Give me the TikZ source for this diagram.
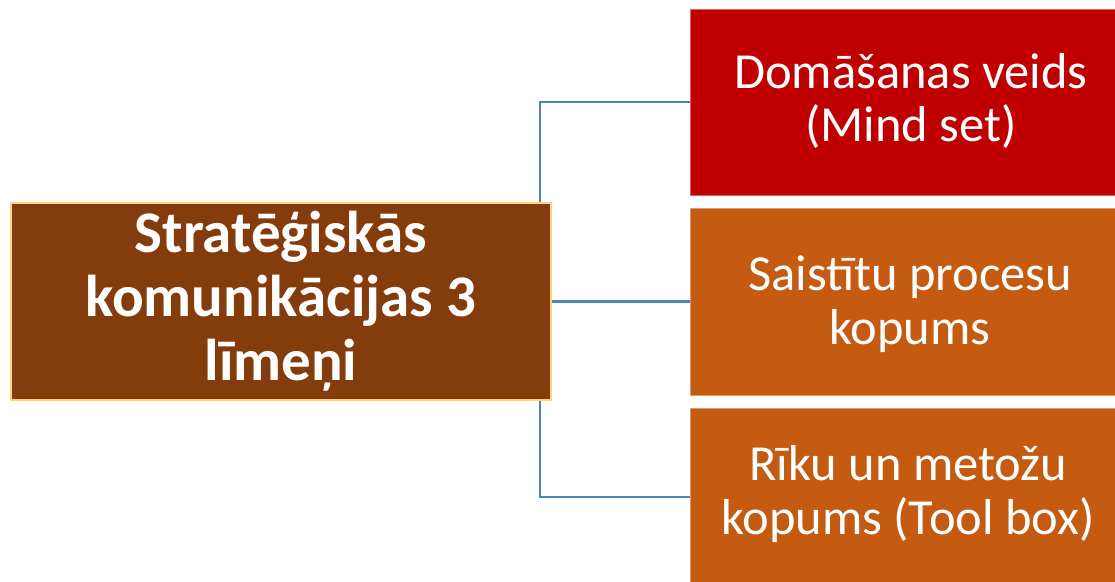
\documentclass[tikz,border=0pt]{standalone}
\usepackage{fontspec}
\setmainfont{Carlito}
\definecolor{rootfill}{HTML}{843C0C}
\definecolor{rootline}{HTML}{FFD27F}
\definecolor{redfill}{HTML}{C00000}
\definecolor{orfill}{HTML}{C55A11}
\definecolor{conn}{HTML}{4F81BD}
\begin{document}
\begin{tikzpicture}[x=1pt,y=-1pt,
  rootbox/.style={draw=rootline,line width=1.5pt,fill=rootfill,text=white,
    minimum width=540pt,minimum height=197pt,inner sep=0pt,align=center,
    font=\fontsize{59}{64}\selectfont\bfseries},
  leafbox/.style={line width=1pt,text=white,minimum width=438pt,inner sep=0pt,
    align=center,font=\fontsize{50.5}{53.5}\selectfont},
  connline/.style={draw=conn,line width=2.3pt}]
\useasboundingbox (0,0) rectangle (1115,581);
\node[rootbox] (root) at (281,301.5) {Stratēģiskās\\komunikācijas 3\\līmeņi};
\node[leafbox,fill=redfill,draw=redfill!60!white,minimum height=186pt] (a) at (909,102) {};
\node[leafbox,fill=orfill,draw=orfill!60!white,minimum height=187pt] (b) at (909,301.5) {};
\node[leafbox,fill=orfill,draw=orfill!60!white,minimum height=178pt] (c) at (909,497) {};
\node[leafbox,minimum height=0pt] (ta) at (911,101) {Domāšanas veids\\(Mind set)};
\node[leafbox,minimum height=0pt] (tb) at (910,304) {Saistītu procesu\\kopums};
\node[leafbox,minimum height=0pt] (tc) at (908,494) {Rīku un metožu\\kopums (Tool box)};
\coordinate (jx) at (540,0);
\draw[connline] (root.north -| jx) |- (a.west);
\draw[connline] (root.south -| jx) |- (c.west);
\draw[connline] (root.east) -- (b.west);
\end{tikzpicture}
\end{document}
